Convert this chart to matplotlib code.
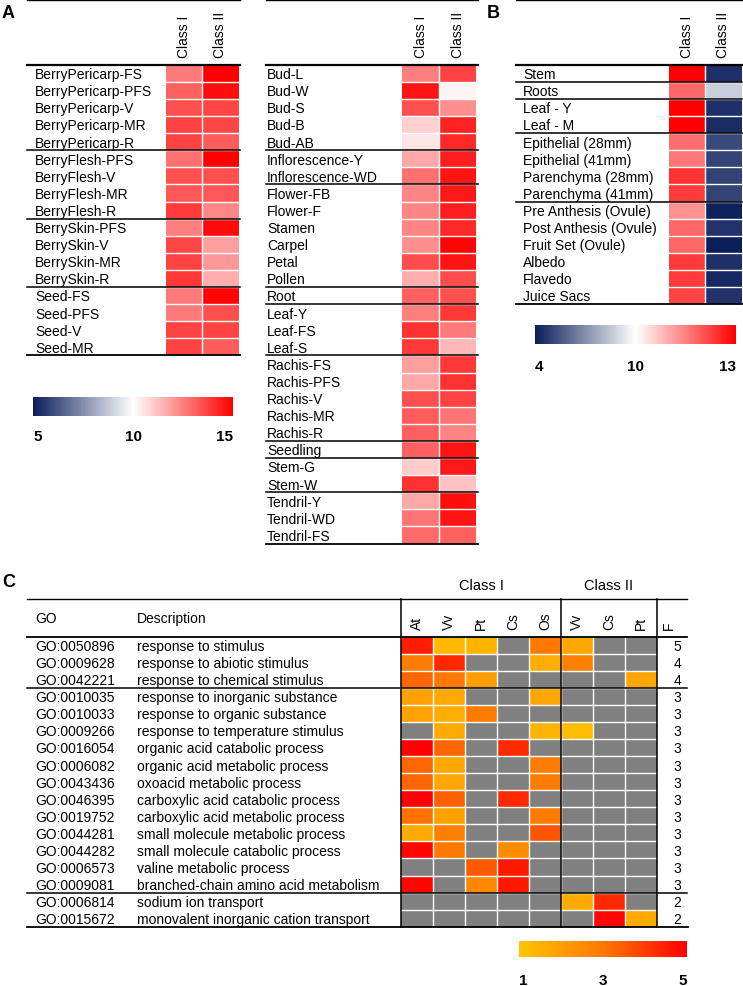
import numpy as np
import matplotlib
matplotlib.use('Agg')
import matplotlib.pyplot as plt
from matplotlib.colors import LinearSegmentedColormap, TwoSlopeNorm, Normalize
from matplotlib.transforms import blended_transform_factory as btf, offset_copy
import matplotlib.cm as cm

plt.rcParams['font.family'] = ['Liberation Sans', 'DejaVu Sans']

# ---------------- DATA ----------------
class_cols = ['Class I', 'Class II']

a1_labels = ['BerryPericarp-FS', 'BerryPericarp-PFS', 'BerryPericarp-V', 'BerryPericarp-MR', 'BerryPericarp-R',
             'BerryFlesh-PFS', 'BerryFlesh-V', 'BerryFlesh-MR', 'BerryFlesh-R',
             'BerrySkin-PFS', 'BerrySkin-V', 'BerrySkin-MR', 'BerrySkin-R',
             'Seed-FS', 'Seed-PFS', 'Seed-V', 'Seed-MR']
a1_groups = [5, 4, 4, 4]
a1_class1 = [12.6, 13.1, 13.4, 13.7, 13.7, 12.8, 13.4, 13.3, 13.8, 12.5, 13.6, 13.7, 13.9, 12.6, 12.6, 13.7, 13.7]
a1_class2 = [15.0, 14.7, 13.6, 13.6, 13.2, 15.0, 13.4, 13.3, 12.35, 14.8, 11.9, 12.0, 11.6, 14.9, 13.4, 13.7, 13.2]

a2_labels = ['Bud-L', 'Bud-W', 'Bud-S', 'Bud-B', 'Bud-AB',
             'Inflorescence-Y', 'Inflorescence-WD',
             'Flower-FB', 'Flower-F', 'Stamen', 'Carpel', 'Petal', 'Pollen',
             'Root',
             'Leaf-Y', 'Leaf-FS', 'Leaf-S',
             'Rachis-FS', 'Rachis-PFS', 'Rachis-V', 'Rachis-MR', 'Rachis-R',
             'Seedling',
             'Stem-G', 'Stem-W',
             'Tendril-Y', 'Tendril-WD', 'Tendril-FS']
a2_groups = [5, 2, 6, 1, 3, 5, 1, 2, 3]
a2_class1 = [12.5, 14.6, 13.4, 10.9, 10.5, 11.7, 12.8, 12.4, 12.4, 12.4, 12.2, 13.5, 11.6,
             13.1, 12.5, 14.0, 13.9, 11.9, 11.7, 13.4, 13.2, 13.1, 13.1, 11.0, 14.0, 11.7, 12.7, 12.9]
a2_class2 = [13.7, 10.2, 12.2, 14.3, 14.2, 14.4, 14.6, 14.5, 14.4, 14.2, 14.9, 14.6, 13.5,
             13.4, 13.9, 12.6, 11.4, 13.9, 14.0, 13.7, 12.7, 12.4, 14.6, 14.5, 11.2, 14.7, 14.6, 13.1]
a_ticks = [5, 10, 15]

b_labels = ['Stem', 'Roots', 'Leaf - Y', 'Leaf - M',
            'Epithelial (28mm)', 'Epithelial (41mm)', 'Parenchyma (28mm)', 'Parenchyma (41mm)',
            'Pre Anthesis (Ovule)', 'Post Anthesis (Ovule)', 'Fruit Set (Ovule)', 'Albedo', 'Flavedo', 'Juice Sacs']
b_groups = [1, 1, 2, 4, 6]
b_class1 = [13.0, 11.8, 13.0, 13.0, 11.7, 11.6, 12.4, 12.3, 11.3, 11.8, 11.8, 12.3, 12.3, 12.2]
b_class2 = [4.5, 8.7, 4.5, 4.4, 5.2, 5.0, 5.0, 5.0, 4.1, 4.6, 4.0, 4.5, 4.3, 4.6]
b_ticks = [4, 10, 13]

go_ids = ['GO:0050896', 'GO:0009628', 'GO:0042221', 'GO:0010035', 'GO:0010033', 'GO:0009266',
          'GO:0016054', 'GO:0006082', 'GO:0043436', 'GO:0046395', 'GO:0019752', 'GO:0044281',
          'GO:0044282', 'GO:0006573', 'GO:0009081', 'GO:0006814', 'GO:0015672']
go_desc = ['response to stimulus', 'response to abiotic stimulus', 'response to chemical stimulus',
           'response to inorganic substance', 'response to organic substance',
           'response to temperature stimulus', 'organic acid catabolic process',
           'organic acid metabolic process', 'oxoacid metabolic process',
           'carboxylic acid catabolic process', 'carboxylic acid metabolic process',
           'small molecule metabolic process', 'small molecule catabolic process',
           'valine metabolic process', 'branched-chain amino acid metabolism',
           'sodium ion transport', 'monovalent inorganic cation transport']
go_groups = [3, 12, 2]
go_f = [5, 4, 4, 3, 3, 3, 3, 3, 3, 3, 3, 3, 3, 3, 3, 2, 2]
c_class1_cols = ['At', 'Vv', 'Pt', 'Cs', 'Os']
c_class2_cols = ['Vv', 'Cs', 'Pt']
N = np.nan
# columns: At Vv Pt Cs Os | Vv Cs Pt
go_scores = [
    [4.5, 1.3, 1.4, N, 3.0, 1.8, N, N],
    [2.9, 4.3, N, N, 1.6, 2.8, N, N],
    [3.3, 3.0, 2.0, N, N, N, N, 1.8],
    [1.9, 1.7, N, N, 1.8, N, N, N],
    [1.9, 1.6, 2.9, N, N, N, N, N],
    [N, 1.7, N, N, 1.4, 1.2, N, N],
    [5.0, 3.3, N, 4.3, N, N, N, N],
    [3.3, 1.8, N, N, 2.9, N, N, N],
    [3.3, 1.8, N, N, 2.9, N, N, N],
    [5.0, 3.4, N, 4.3, N, N, N, N],
    [3.1, 1.9, N, N, 2.9, N, N, N],
    [1.7, 2.8, N, N, 3.6, N, N, N],
    [4.9, 3.0, N, 2.5, N, N, N, N],
    [N, N, 3.5, 4.6, N, N, N, N],
    [4.9, N, 2.6, 4.6, N, N, N, N],
    [N, N, N, N, N, 1.7, 4.3, N],
    [N, N, N, N, N, N, 4.9, 1.7],
]
c_ticks = [1, 3, 5]

# ---------------- FIGURE ----------------
W, H = 743, 987
fig = plt.figure(figsize=(W / 100, H / 100), dpi=100)
ov = fig.add_axes([0, 0, 1, 1], zorder=5)
ov.set_xlim(0, W)
ov.set_ylim(H, 0)
ov.axis('off')
ov.patch.set_alpha(0)

FS = 10


def add_ax(x0, y0, x1, y1):
    return fig.add_axes([x0 / W, 1 - y1 / H, (x1 - x0) / W, (y1 - y0) / H])


bwr = LinearSegmentedColormap.from_list('bwr2', ['#0a1e5a', '#ffffff', '#ff0000'])
ory = LinearSegmentedColormap.from_list('ory', ['#FFC400', '#FF7800', '#FF0000'])
ory.set_bad('#808080')


def grid_lines(ax, nr, nc, lw=1.0):
    for i in range(1, nr):
        ax.axhline(i, color='white', lw=lw, zorder=2)
    for j in range(1, nc):
        ax.axvline(j, color='white', lw=lw, zorder=2)


def heat_table(xl0, xl1, xlab, cx0, cx1, y_top, y_head, y_bot, labels, groups, cols, cmap, norm):
    ax = add_ax(cx0, y_head, cx1, y_bot)
    arr = np.array(cols).T
    n, m = arr.shape
    ax.pcolormesh(np.arange(m + 1), np.arange(n + 1), arr, cmap=cmap, norm=norm, edgecolors='none')
    ax.set_xlim(0, m)
    ax.set_ylim(n, 0)
    ax.axis('off')
    grid_lines(ax, n, m)
    tr = btf(ov.transData, ax.transData)
    for i, lab in enumerate(labels):
        ax.text(xlab, i + 0.55, lab, transform=tr, va='center', ha='left', fontsize=FS)
    for yb in np.cumsum(groups)[:-1]:
        ax.plot([xl0, xl1], [yb, yb], transform=tr, color='k', lw=1.1, clip_on=False, zorder=5)
    ax.plot([xl0, xl1], [0, 0], transform=tr, color='k', lw=1.6, clip_on=False, zorder=5)
    ax.plot([xl0, xl1], [n, n], transform=tr, color='k', lw=1.3, clip_on=False, zorder=5)
    ov.plot([xl0, xl1], [y_top, y_top], color='k', lw=1.0)
    trc = offset_copy(ax.transData, fig=fig, y=8, units='dots')
    for j, cl in enumerate(class_cols):
        ax.text(j + 0.5, 0, cl, transform=trc, rotation=90, ha='center', va='bottom', fontsize=FS)
    return ax


def colorbar(x0, y0, x1, y1, cmap, norm, ticks, label_y):
    cax = add_ax(x0, y0, x1, y1)
    sm = cm.ScalarMappable(norm=norm, cmap=cmap)
    cb = fig.colorbar(sm, cax=cax, orientation='horizontal')
    cb.outline.set_visible(False)
    cb.set_ticks([])
    tr = btf(cax.transData, ov.transData)
    for k, t in enumerate(ticks):
        ha = 'left' if k == 0 else ('right' if k == len(ticks) - 1 else 'center')
        cax.text(t, label_y, str(t), transform=tr, ha=ha, va='center', fontsize=11, fontweight='bold')


RH = 17.1
y_head = 65.7

# Panel A
normA = TwoSlopeNorm(vmin=a_ticks[0], vcenter=a_ticks[1], vmax=a_ticks[2])
heat_table(27, 240, 35, 166, 238.5, 1, y_head, y_head + RH * len(a1_labels),
           a1_labels, a1_groups, [a1_class1, a1_class2], bwr, normA)
heat_table(266, 478, 267, 402, 476.5, 1, y_head, y_head + RH * len(a2_labels),
           a2_labels, a2_groups, [a2_class1, a2_class2], bwr, normA)
colorbar(33, 398, 233, 417, bwr, normA, a_ticks, 437)

# Panel B
normB = TwoSlopeNorm(vmin=b_ticks[0], vcenter=b_ticks[1], vmax=b_ticks[2])
heat_table(516, 742, 523, 669, 741.5, 1, y_head, y_head + RH * len(b_labels),
           b_labels, b_groups, [b_class1, b_class2], bwr, normB)
colorbar(535, 326, 736, 345, bwr, normB, b_ticks, 367)

# Panel labels
ov.text(2, 18, 'A', fontsize=13, fontweight='bold', ha='left', va='baseline')
ov.text(487, 18, 'B', fontsize=13, fontweight='bold', ha='left', va='baseline')
ov.text(2, 587, 'C', fontsize=13, fontweight='bold', ha='left', va='baseline')

# Panel C
c_top, c_head = 600, 637.7
c_rh = 17.06
nC = len(go_ids)
c_bot = c_head + c_rh * nC
cx0, cx1 = 401, 657
arr = np.ma.masked_invalid(np.array(go_scores, dtype=float))
axc = add_ax(cx0, c_head, cx1, c_bot)
normC = Normalize(vmin=c_ticks[0], vmax=c_ticks[-1])
axc.pcolormesh(np.arange(arr.shape[1] + 1), np.arange(nC + 1), arr, cmap=ory, norm=normC, edgecolors='none')
axc.set_xlim(0, arr.shape[1])
axc.set_ylim(nC, 0)
axc.set_facecolor('#808080')
axc.set_xticks([])
axc.set_yticks([])
for s in axc.spines.values():
    s.set_visible(False)
grid_lines(axc, nC, arr.shape[1])

trC = btf(ov.transData, axc.transData)
for i in range(nC):
    axc.text(35, i + 0.55, go_ids[i], transform=trC, va='center', ha='left', fontsize=FS)
    axc.text(137, i + 0.55, go_desc[i], transform=trC, va='center', ha='left', fontsize=FS)
    axc.text(677, i + 0.55, str(go_f[i]), transform=trC, va='center', ha='center', fontsize=FS)
for yb in np.cumsum(go_groups)[:-1]:
    axc.plot([27, 687], [yb, yb], transform=trC, color='k', lw=1.1, clip_on=False, zorder=5)
axc.plot([27, 687], [0, 0], transform=trC, color='k', lw=1.3, clip_on=False, zorder=5)
axc.plot([27, 688], [nC, nC], transform=trC, color='k', lw=1.3, clip_on=False, zorder=5)
ov.plot([27, 687], [c_top, c_top], color='k', lw=1.0)

trV = btf(axc.transData, ov.transData)
n1, n2 = len(c_class1_cols), len(c_class2_cols)
for xv in [0, n1, n1 + n2]:
    axc.plot([xv, xv], [c_top, c_bot], transform=trV, color='k', lw=1.1, clip_on=False, zorder=5)

trc = offset_copy(axc.transData, fig=fig, y=8, units='dots')
for j, cl in enumerate(c_class1_cols + c_class2_cols):
    axc.text(j + 0.5, 0, cl, transform=trc, rotation=90, ha='center', va='bottom', fontsize=FS)
ov.text(669, c_head - 8, 'F', rotation=90, ha='center', va='bottom', fontsize=FS)
ov.text(35, 619, 'GO', ha='left', va='center', fontsize=FS)
ov.text(137, 619, 'Description', ha='left', va='center', fontsize=FS)
axc.text(n1 / 2, 586.5, 'Class I', transform=trV, ha='center', va='center', fontsize=10.5)
axc.text(n1 + n2 / 2, 586.5, 'Class II', transform=trV, ha='center', va='center', fontsize=10.5)

colorbar(519, 942, 687, 958, ory, normC, c_ticks, 981)

fig.savefig('out.png', dpi=100)
